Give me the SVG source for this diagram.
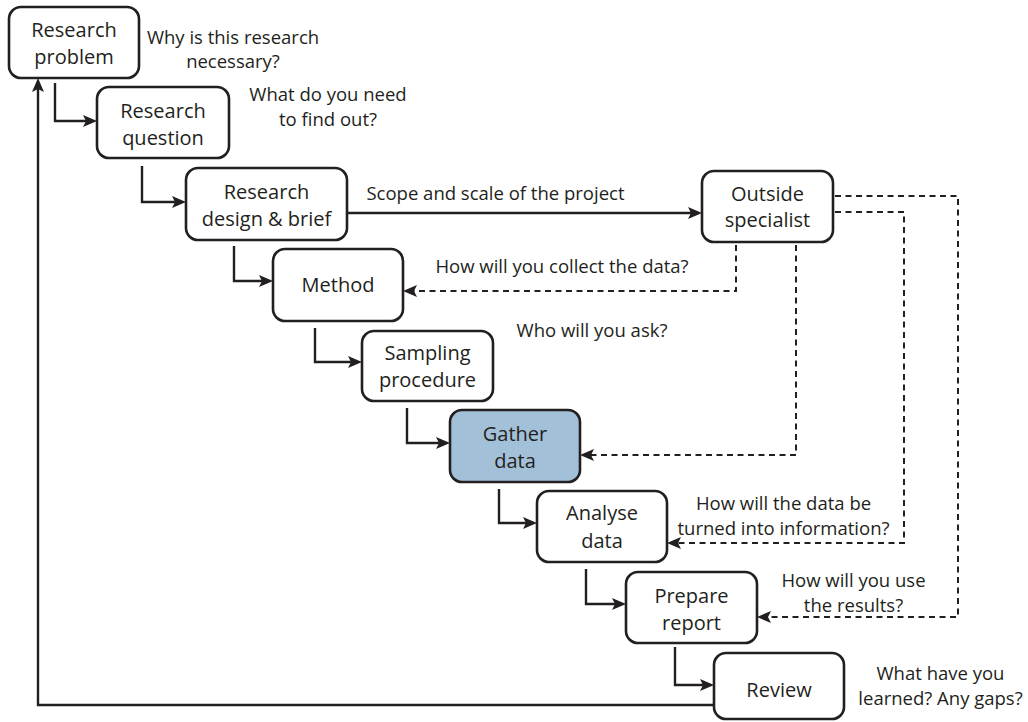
<svg xmlns="http://www.w3.org/2000/svg" width="1028" height="722" viewBox="0 0 1028 722">
<style>
.box{fill:#ffffff;stroke:#231f20;stroke-width:2.6}
.hl{fill:#a3c0d9}
.lbl{font-family:"Open Sans","Noto Sans",sans-serif;font-size:20px;fill:#231f20;text-anchor:middle}
.ann{font-family:"Open Sans","Noto Sans",sans-serif;font-size:18.5px;fill:#231f20;text-anchor:middle}
.ln{fill:none;stroke:#231f20;stroke-width:2.4;marker-end:url(#ah)}
.dl{fill:none;stroke:#231f20;stroke-width:2;stroke-dasharray:6 4.5;marker-end:url(#ah)}
</style>
<defs>
<marker id="ah" markerUnits="userSpaceOnUse" markerWidth="16" markerHeight="14" refX="10" refY="6" orient="auto">
<path d="M0,0 L14,6 L0,12 L3,6 z" fill="#231f20"/>
</marker>
</defs>
<rect width="1028" height="722" fill="#ffffff"/>

<g id="connectors">
<path class="ln" d="M55,83 V121 H93"/>
<path class="ln" d="M142,166 V202 H182"/>
<path class="ln" d="M234,246 V281 H269"/>
<path class="ln" d="M315,328 V362 H358"/>
<path class="ln" d="M407,408 V443 H446"/>
<path class="ln" d="M499,489 V523 H533"/>
<path class="ln" d="M586,569 V604 H622"/>
<path class="ln" d="M675,647 V685 H710"/>
<path class="ln" d="M714,705 H38 V82"/>
<path class="ln" d="M347,213 H698"/>
<path class="dl" d="M736,245 V291 H407"/>
<path class="dl" d="M796,245 V455 H584"/>
<path class="dl" d="M835,212 H904 V543 H671"/>
<path class="dl" d="M835,196 H958 V617 H761"/>
</g>

<g id="research-problem">
<rect class="box" x="9" y="7" width="130" height="71" rx="12"/>
<text class="lbl" x="74" y="37">Research</text>
<text class="lbl" x="74" y="64">problem</text>
</g>
<g id="ann-problem">
<text class="ann" x="233" y="44">Why is this research</text>
<text class="ann" x="233" y="68">necessary?</text>
</g>

<g id="research-question">
<rect class="box" x="97" y="87" width="132" height="71" rx="12"/>
<text class="lbl" x="163" y="118">Research</text>
<text class="lbl" x="163" y="145">question</text>
</g>
<g id="ann-question">
<text class="ann" x="328" y="101">What do you need</text>
<text class="ann" x="328" y="126">to find out?</text>
</g>

<g id="research-design">
<rect class="box" x="186" y="168" width="161" height="72" rx="12"/>
<text class="lbl" x="266.5" y="199">Research</text>
<text class="lbl" x="266.5" y="226">design &amp; brief</text>
</g>
<g id="ann-scope">
<text class="ann" x="495.5" y="200">Scope and scale of the project</text>
</g>

<g id="outside-specialist">
<rect class="box" x="702" y="171" width="131" height="71" rx="12"/>
<text class="lbl" x="767.5" y="201">Outside</text>
<text class="lbl" x="767.5" y="227">specialist</text>
</g>

<g id="method">
<rect class="box" x="273" y="249" width="130" height="72" rx="12"/>
<text class="lbl" x="338" y="292">Method</text>
</g>
<g id="ann-method">
<text class="ann" x="562" y="273">How will you collect the data?</text>
</g>

<g id="sampling-procedure">
<rect class="box" x="362" y="331" width="131" height="70" rx="12"/>
<text class="lbl" x="427.5" y="360">Sampling</text>
<text class="lbl" x="427.5" y="387">procedure</text>
</g>
<g id="ann-sampling">
<text class="ann" x="592" y="337">Who will you ask?</text>
</g>

<g id="gather-data">
<rect class="box hl" x="450" y="410" width="130" height="72" rx="12"/>
<text class="lbl" x="515" y="441">Gather</text>
<text class="lbl" x="515" y="468">data</text>
</g>

<g id="analyse-data">
<rect class="box" x="537" y="491" width="130" height="71" rx="12"/>
<text class="lbl" x="602" y="520">Analyse</text>
<text class="lbl" x="602" y="548">data</text>
</g>
<g id="ann-analyse">
<text class="ann" x="783.5" y="510">How will the data be</text>
<text class="ann" x="783.5" y="535">turned into information?</text>
</g>

<g id="prepare-report">
<rect class="box" x="626" y="572" width="131" height="71" rx="12"/>
<text class="lbl" x="691.5" y="603">Prepare</text>
<text class="lbl" x="691.5" y="630">report</text>
</g>
<g id="ann-prepare">
<text class="ann" x="853.5" y="587">How will you use</text>
<text class="ann" x="853.5" y="612">the results?</text>
</g>

<g id="review">
<rect class="box" x="714" y="653" width="130" height="66" rx="12"/>
<text class="lbl" x="779" y="697">Review</text>
</g>
<g id="ann-review">
<text class="ann" x="940.5" y="680">What have you</text>
<text class="ann" x="940.5" y="705">learned? Any gaps?</text>
</g>
</svg>
